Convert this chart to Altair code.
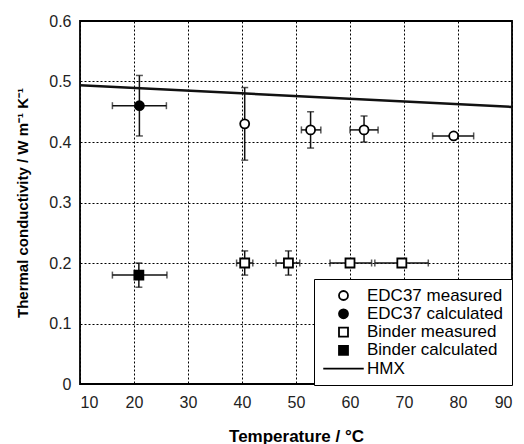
import altair as alt
import pandas as pd

# ---- data ----
series_names = ["EDC37 measured", "EDC37 calculated", "Binder measured",
                "Binder calculated", "HMX"]

pt_series = ["EDC37 calculated", "EDC37 measured", "EDC37 measured", "EDC37 measured",
             "EDC37 measured", "Binder calculated", "Binder measured", "Binder measured",
             "Binder measured", "Binder measured"]
temp = [21.0, 40.5, 52.7, 62.6, 79.2, 20.9, 40.5, 48.6, 60.0, 69.6]
cond = [0.46, 0.43, 0.42, 0.42, 0.41, 0.18, 0.20, 0.20, 0.20, 0.20]
temp_lo = [16.0, None, 51.0, 60.0, 75.3, 16.0, 39.0, 46.3, 56.3, 64.6]
temp_hi = [26.0, None, 54.6, 65.2, 82.9, 26.1, 42.0, 50.7, 64.0, 74.5]
cond_lo = [0.41, 0.37, 0.39, 0.40, None, 0.16, 0.18, 0.18, None, None]
cond_hi = [0.51, 0.49, 0.45, 0.443, None, 0.20, 0.22, 0.22, None, None]

hmx_temp = [10, 90]
hmx_cond = [0.494, 0.458]

x_ticks = [10, 20, 30, 40, 50, 60, 70, 80, 90]
y_ticks = [0, 0.1, 0.2, 0.3, 0.4, 0.5, 0.6]

# legend symbol styles (the HMX entry is a long horizontal stroke)
shape_range = ["circle", "circle", "square", "square", "M-4.5,0L4.5,0"]
fill_range = ["white", "black", "white", "black", "black"]
stroke_range = ["black", "black", "black", "black", "black"]

# ---- tables ----
pts = pd.DataFrame({"series": pt_series, "temp": temp, "cond": cond,
                    "tlo": temp_lo, "thi": temp_hi, "clo": cond_lo, "chi": cond_hi})
pts = pts.astype({"tlo": float, "thi": float, "clo": float, "chi": float})
hmx = pd.DataFrame({"temp": hmx_temp, "cond": hmx_cond})

FONT = "Liberation Sans"
INK = "#111111"

xs = alt.Scale(domain=[10, 90], nice=False)
ys = alt.Scale(domain=[0, 0.6], nice=False)

x_axis = alt.Axis(values=x_ticks, title="Temperature / °C", grid=True, ticks=False,
                  domain=False, labelPadding=10, titlePadding=18, format="d",
                  titleFontSize=17)
y_axis = alt.Axis(values=y_ticks, title="Thermal conductivity / W m\u207b\u00b9 K\u207b\u00b9",
                  grid=True, ticks=False, domain=False, labelPadding=9, titlePadding=18,
                  titleFontSize=15,
                  labelExpr="datum.value == 0 ? '0' : format(datum.value, '.1f')")

base = alt.Chart(pts)

line = alt.Chart(hmx).mark_line(color=INK, strokeWidth=2.5).encode(
    x=alt.X("temp:Q", scale=xs, axis=x_axis),
    y=alt.Y("cond:Q", scale=ys, axis=y_axis),
)

xerr = base.transform_filter("isValid(datum.tlo)").mark_rule(color=INK, strokeWidth=1.5).encode(
    x=alt.X("tlo:Q", scale=xs), x2="thi:Q", y=alt.Y("cond:Q", scale=ys))
yerr = base.transform_filter("isValid(datum.clo)").mark_rule(color=INK, strokeWidth=1.5).encode(
    x=alt.X("temp:Q", scale=xs), y=alt.Y("clo:Q", scale=ys), y2="chi:Q")

cap_kw = dict(color=INK, thickness=1.5, size=7)
xcap_lo = base.transform_filter("isValid(datum.tlo)").mark_tick(orient="vertical", **cap_kw).encode(
    x=alt.X("tlo:Q", scale=xs), y=alt.Y("cond:Q", scale=ys))
xcap_hi = base.transform_filter("isValid(datum.thi)").mark_tick(orient="vertical", **cap_kw).encode(
    x=alt.X("thi:Q", scale=xs), y=alt.Y("cond:Q", scale=ys))
ycap_lo = base.transform_filter("isValid(datum.clo)").mark_tick(orient="horizontal", **cap_kw).encode(
    x=alt.X("temp:Q", scale=xs), y=alt.Y("clo:Q", scale=ys))
ycap_hi = base.transform_filter("isValid(datum.chi)").mark_tick(orient="horizontal", **cap_kw).encode(
    x=alt.X("temp:Q", scale=xs), y=alt.Y("chi:Q", scale=ys))

legend = alt.Legend(title=None, orient="none", legendX=234, legendY=258,
                    fillColor="white", strokeColor="black", padding=8,
                    labelFontSize=17, labelFont=FONT, labelColor="black",
                    rowPadding=0.3, symbolOffset=13, labelOffset=15,
                    symbolSize=81, symbolStrokeWidth=1.8, labelLimit=300)

points = base.mark_point(strokeWidth=1.8, size=81, opacity=1).encode(
    x=alt.X("temp:Q", scale=xs),
    y=alt.Y("cond:Q", scale=ys),
    shape=alt.Shape("series:N", scale=alt.Scale(domain=series_names, range=shape_range), legend=legend),
    fill=alt.Fill("series:N", scale=alt.Scale(domain=series_names, range=fill_range), legend=legend),
    stroke=alt.Stroke("series:N", scale=alt.Scale(domain=series_names, range=stroke_range), legend=legend),
)

chart = alt.layer(line, xerr, yerr, xcap_lo, xcap_hi, ycap_lo, ycap_hi, points).properties(
    width=432, height=363,
    background="white",
    autosize=alt.AutoSizeParams(type="none"),
    padding={"left": 80, "top": 21, "right": 12, "bottom": 60},
).configure_view(
    stroke="black", strokeWidth=1.8
).configure_axis(
    gridColor="black", gridDash=[2, 2], gridWidth=1, gridOpacity=1,
    labelFont=FONT, labelFontSize=16, labelColor="#222222",
    titleFont=FONT, titleFontWeight="bold", titleColor="black",
)

chart.save("out.html", embed_options={"renderer": "svg", "actions": False})
